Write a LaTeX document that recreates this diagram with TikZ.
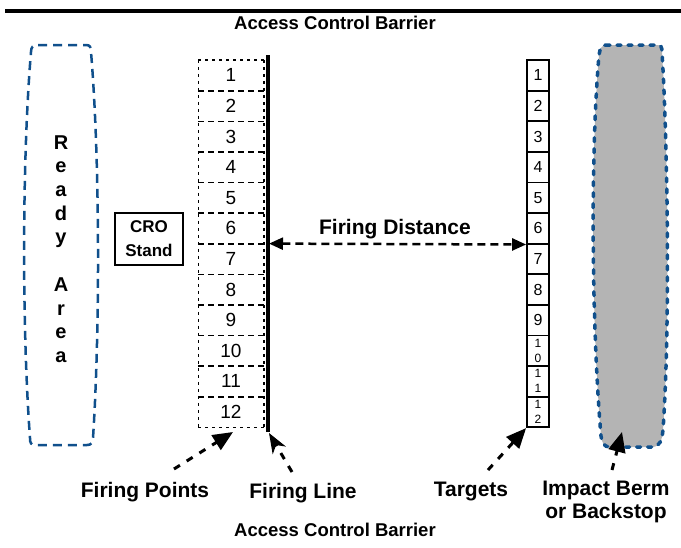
\documentclass[tikz,border=0pt]{standalone}
\usepackage{fontspec}
\setmainfont{Liberation Sans}
\usetikzlibrary{arrows.meta}
\definecolor{zoneblue}{RGB}{16,80,140}
\definecolor{bermgray}{RGB}{180,180,180}
\tikzset{
  lbl/.style={font=\bfseries\fontsize{21}{24}\selectfont, inner sep=0pt, align=center},
  barrierlbl/.style={font=\bfseries\fontsize{18.5}{22}\selectfont, inner sep=0pt},
  fpnum/.style={font=\fontsize{19}{22}\selectfont, minimum width=65pt, minimum height=30.6pt, inner sep=0pt},
  tgcell/.style={draw, line width=1.8pt, minimum width=22pt, minimum height=30.6pt, inner sep=0pt, font=\fontsize{16}{18}\selectfont},
  tgsmall/.style={tgcell, font=\fontsize{12}{14}\selectfont, align=center},
  sidedot/.style={line width=1.6pt, dash pattern=on 3pt off 4pt},
  sepdash/.style={line width=1.6pt, dash pattern=on 6pt off 4pt},
  callout/.style={line width=3pt, dash pattern=on 7pt off 8pt, -{Triangle[length=20pt,width=17pt]}},
}
\begin{document}
\begin{tikzpicture}[x=1pt,y=-1pt]
\useasboundingbox (0,0) rectangle (681,547);
% top barrier
\coordinate (bl) at (5,11);
\coordinate (br) at (681,11);
\draw[line width=3.5pt] (bl) -- (br);
\node[barrierlbl] (topbar) at (335,23) {Access Control Barrier};
% ready area
\draw[zoneblue, line width=2.5pt, dash pattern=on 9pt off 6pt]
  (38,45) -- (86,45) .. controls (90,45) and (91,47) .. (91,52)
  .. controls (100,160) and (100,330) .. (93,438)
  .. controls (93,443) and (91,445) .. (87,445) -- (35,445)
  .. controls (31,445) and (30,443) .. (30,438)
  .. controls (22,330) and (22,160) .. (31,52)
  .. controls (31,47) and (33,45) .. (38,45) -- cycle;
\node[font=\bfseries\fontsize{20}{23.7}\selectfont, align=center, inner sep=0pt] (ready) at (61,249)
  {R\\e\\a\\d\\y\\[23.7pt]A\\r\\e\\a};
% impact berm
\draw[zoneblue, fill=bermgray, line width=3.5pt, dash pattern=on 4pt off 7pt, line cap=round]
  (606,45) -- (657,45) .. controls (661,45) and (662,47) .. (662,52)
  .. controls (668,150) and (670,330) .. (663,430)
  .. controls (662,440) and (660,447) .. (652,447) -- (610,447)
  .. controls (604,447) and (602,443) .. (601,436)
  .. controls (592,330) and (590,160) .. (599,55)
  .. controls (600,48) and (602,45) .. (606,45) -- cycle;
% CRO stand
\node[draw, line width=2pt, minimum width=68pt, minimum height=52pt, align=center, inner sep=0pt,
  font=\bfseries\fontsize{17}{24}\selectfont] (cro) at (149,239) {CRO\\Stand};
% firing points
\foreach \i in {1,...,12} {
  \node[fpnum] (fp\i) at (231,{60+30.6*(\i-0.5)}) {\i};
}
\draw[sidedot] (fp1.north west) -- (fp1.north east);
\draw[sidedot] (fp12.south west) -- (fp12.south east);
\draw[sidedot] (fp1.north west) -- (fp12.south west);
\draw[sidedot] (fp1.north east) -- (fp12.south east);
\foreach \i in {1,...,11} {
  \draw[sepdash] (fp\i.south west) -- (fp\i.south east);
}
% firing line
\coordinate (flt) at (268,55);
\coordinate (flb) at (268,432);
\draw[line width=4pt] (flt) -- (flb);
% targets
\foreach \i in {1,...,9} {
  \node[tgcell] (tg\i) at (538,{60+30.6*(\i-0.5)}) {\i};
}
\node[tgsmall] (tg10) at (538,{60+30.6*9.5}) {1\\[1pt]0};
\node[tgsmall] (tg11) at (538,{60+30.6*10.5}) {1\\[1pt]1};
\node[tgsmall] (tg12) at (538,{60+30.6*11.5}) {1\\[1pt]2};
% firing distance
\coordinate (fdl) at (269,243.6);
\draw[line width=2.5pt, dash pattern=on 8pt off 5pt, {Triangle[length=14pt,width=12pt]}-{Triangle[length=14pt,width=12pt]}]
  (fdl) -- (tg6.south west);
\node[lbl] (fdlbl) at (395,229) {Firing Distance};
% bottom labels and callouts
\node[lbl] (fplbl) at (145,492) {Firing Points};
\node[lbl] (fllbl) at (303,493) {Firing Line};
\node[lbl] (tglbl) at (471,491) {Targets};
\node[lbl, font=\bfseries\fontsize{21}{23}\selectfont] (bmlbl) at (606,502) {Impact Berm\\or Backstop};
\coordinate (fpt) at (174,469);
\coordinate (fpa) at (233,432);
\coordinate (flt2) at (292,472);
\coordinate (fla) at (269,433);
\coordinate (tgt) at (488,470);
\coordinate (bmt) at (612,470);
\coordinate (bma) at (622,432);
\draw[callout] (fpt) -- (fpa);
\draw[callout, -{Stealth[length=20pt,width=15pt,inset=6pt]}] (flt2) -- (fla);
\draw[callout] (tgt) -- (tg12.south west);
\draw[callout] (bmt) -- (bma);
\node[barrierlbl] (botbar) at (335,530) {Access Control Barrier};
\end{tikzpicture}
\end{document}
